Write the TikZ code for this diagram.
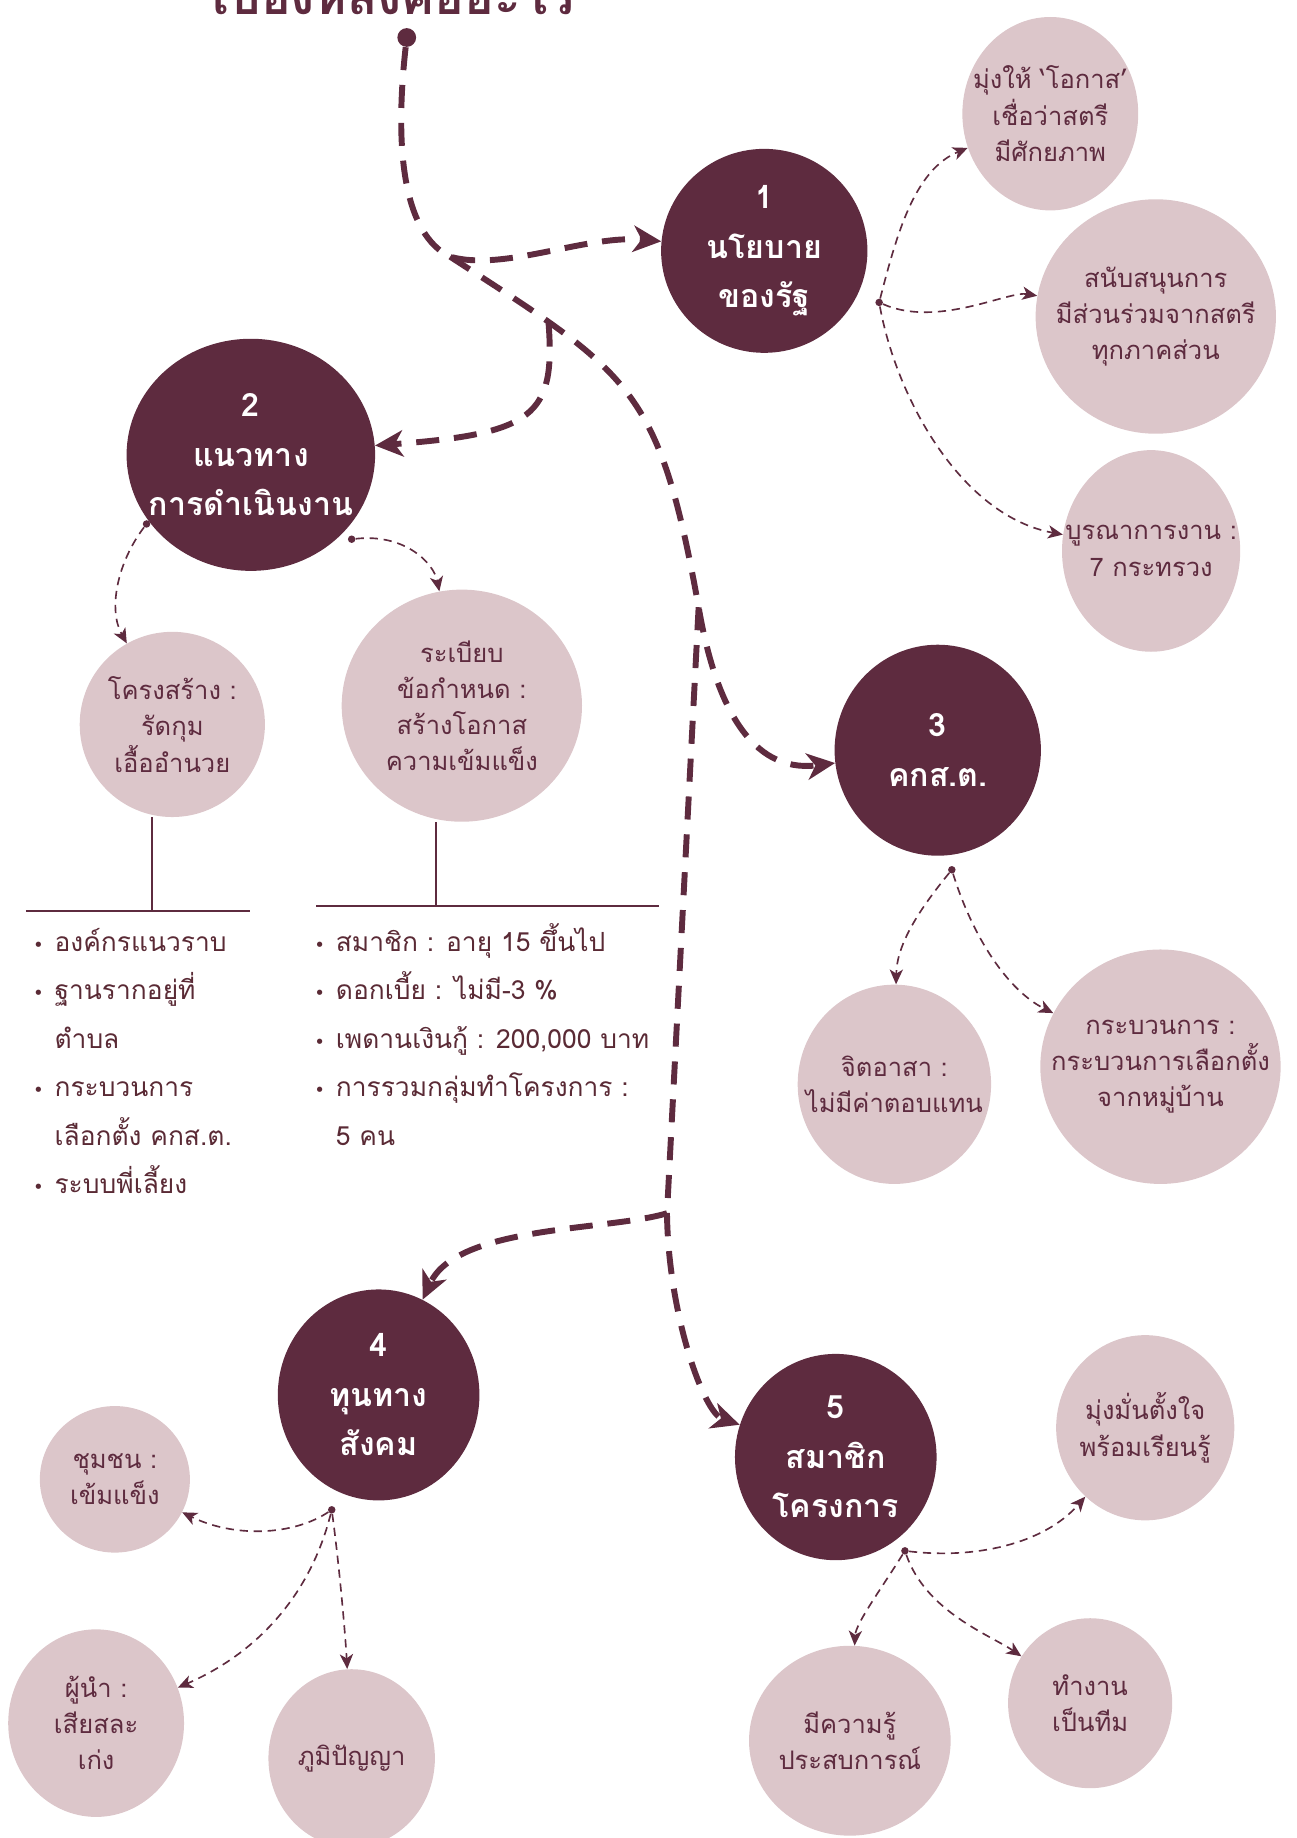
\documentclass[tikz,border=0pt]{standalone}
\usepackage{fontspec}
\setmainfont{Loma}[Script=Thai]
\newfontfamily\dejavu{DejaVu Sans}
\usetikzlibrary{shapes.geometric,arrows.meta}

\definecolor{plum}{HTML}{5E2B3F}
\definecolor{blush}{HTML}{DCC6CA}
\definecolor{listink}{HTML}{5A2A35}

\newcommand\bulpt{\makebox[13pt][l]{\dejavu\fontsize{11}{11}\selectfont •}}
\newcommand\bulgap{\hspace*{13pt}}

\tikzset{
  hub/.style={ellipse, fill=plum, text=white, align=center, inner sep=-10mm,
    font=\bfseries\fontsize{19.5}{30}\selectfont},
  bubble/.style={ellipse, fill=blush, text=plum, align=center, inner sep=-10mm,
    font=\fontsize{15.5}{22}\selectfont},
  pinpt/.style={circle, fill=plum, inner sep=0pt, minimum size=1.6mm},
  mainflow/.style={draw=plum, line width=3.6pt, dash pattern=on 14pt off 9pt,
    -{Stealth[length=17pt,width=16pt,inset=5pt]}},
  subflow/.style={draw=plum, line width=1pt, dash pattern=on 5pt off 3.5pt,
    -{Stealth[length=9pt,width=8pt,inset=2.5pt]}},
  branch/.style={draw=plum, line width=1.3pt},
  listtext/.style={anchor=base west, text=listink, inner sep=0pt,
    font=\fontsize{16}{16}\selectfont}
}

\begin{document}
\begin{tikzpicture}[x=0.25mm, y=-0.25mm]
\useasboundingbox (0,0) rectangle (1106,1568);

% heading, cut off by the page edge
\node[anchor=base, text=plum, font=\bfseries\fontsize{30}{30}\selectfont] (title) at (336,12) {เบื้องหลังคืออะไร};
\node[circle, fill=plum, inner sep=0pt, minimum size=4mm] (top) at (347,32) {};

% the five main steps
\node[hub, minimum width=44mm, minimum height=43.5mm] (n1) at (652,214) {1\\นโยบาย\\ของรัฐ};
\node[hub, minimum width=53mm, minimum height=49.5mm] (n2) at (214,388) {2\\แนวทาง\\การดำเนินงาน};
\node[hub, minimum width=44mm, minimum height=45mm] (n3) at (800,640) {3\\คกส.ต.};
\node[hub, minimum width=43mm, minimum height=45mm] (n4) at (323,1190) {4\\ทุนทาง\\สังคม};
\node[hub, minimum width=43mm, minimum height=44mm] (n5) at (713,1243) {5\\สมาชิก\\โครงการ};

% the pale bubbles
\foreach \name/\pos/\w/\h/\txt in {
  b1a/{(896,97)}/37.5/41.25/{มุ่งให้ ‘โอกาส’\\เชื่อว่าสตรี\\มีศักยภาพ},
  b1b/{(986,270)}/51.25/50/{สนับสนุนการ\\มีส่วนร่วมจากสตรี\\ทุกภาคส่วน},
  b1c/{(982,470)}/38/43/{บูรณาการงาน :\\7 กระทรวง},
  b2a/{(147,618)}/39.5/39.5/{โครงสร้าง :\\รัดกุม\\เอื้ออำนวย},
  b2b/{(394,602)}/51.25/49.5/{ระเบียบ\\ข้อกำหนด :\\สร้างโอกาส\\ความเข้มแข็ง},
  b3a/{(763,925)}/41.25/42.5/{จิตอาสา :\\ไม่มีค่าตอบแทน},
  b3b/{(990,910)}/51.25/50/{กระบวนการ :\\กระบวนการเลือกตั้ง\\จากหมู่บ้าน},
  b4a/{(98,1262)}/32/31.25/{ชุมชน :\\เข้มแข็ง},
  b4b/{(82,1470)}/37.5/40/{ผู้นำ :\\เสียสละ\\เก่ง},
  b4c/{(300,1500)}/35.5/38/{ภูมิปัญญา},
  b5a/{(977,1218)}/38/39.5/{มุ่งมั่นตั้งใจ\\พร้อมเรียนรู้},
  b5b/{(725,1485)}/43/40.5/{มีความรู้\\ประสบการณ์},
  b5c/{(930,1453)}/35/36.25/{ทำงาน\\เป็นทีม}}
  \node[bubble, minimum width=\w mm, minimum height=\h mm] (\name) at \pos {\txt};

% thick flow from the heading
\coordinate (fork1) at (384,219);
\coordinate (fork2) at (468,276);
\coordinate (fork3) at (596,518);
\coordinate (fork4) at (569,1035);
\draw[mainflow] (top) .. controls (336,130) and (345,200) .. (fork1) .. controls (430,232) and (500,200) .. (n1);
\draw[mainflow] (fork1) .. controls (538,319) and (562,329) .. (fork3) .. controls (610,600) and (640,660) .. (n3);
\draw[mainflow] (fork2) .. controls (474,355) and (455,370) .. (n2);
\draw[mainflow] (fork3) -- (fork4) .. controls (520,1050) and (390,1045) .. (n4);
\draw[mainflow] (fork4) .. controls (570,1120) and (600,1205) .. (n5);

% thin links to the bubbles
\node[pinpt] (d1) at (750,258) {};
\draw[subflow] (d1) .. controls (765,200) and (780,145) .. (b1a);
\draw[subflow] (d1) .. controls (800,280) and (860,248) .. (b1b);
\draw[subflow] (d1) .. controls (765,340) and (820,440) .. (b1c);
\node[pinpt] (d2a) at (125,447) {};
\node[pinpt] (d2b) at (300,460) {};
\draw[subflow] (d2a) .. controls (100,480) and (92,520) .. (b2a);
\draw[subflow] (d2b) .. controls (345,455) and (370,480) .. (b2b);
\node[pinpt] (d3) at (812,742) {};
\draw[subflow] (d3) .. controls (785,775) and (765,805) .. (b3a);
\draw[subflow] (d3) .. controls (830,800) and (860,845) .. (b3b);
\node[pinpt] (d4) at (283,1288) {};
\draw[subflow] (d4) .. controls (250,1310) and (200,1312) .. (b4a);
\draw[subflow] (d4) .. controls (265,1360) and (220,1410) .. (b4b);
\draw[subflow] (d4) .. controls (290,1340) and (295,1400) .. (b4c);
\node[pinpt] (d5) at (772,1323) {};
\draw[subflow] (d5) .. controls (830,1330) and (890,1318) .. (b5a);
\draw[subflow] (d5) .. controls (752,1355) and (730,1385) .. (b5b);
\draw[subflow] (d5) .. controls (790,1375) and (845,1395) .. (b5c);

% stems and rules under step 2
\coordinate (stem1) at (130,777);
\coordinate (stem2) at (372,773);
\draw[branch] (b2a.south -| stem1) -- (stem1);
\draw[branch] (22,777) -- (213,777);
\draw[branch] (b2b.south -| stem2) -- (stem2);
\draw[branch] (270,773) -- (562,773);

\foreach \txt [count=\i] in {{\bulpt องค์กรแนวราบ}, {\bulpt ฐานรากอยู่ที่}, {\bulgap ตำบล},
    {\bulpt กระบวนการ}, {\bulgap เลือกตั้ง คกส.ต.}, {\bulpt ระบบพี่เลี้ยง}}
  \node[listtext] (left\i) at (28,770+41.4*\i) {\txt};
\foreach \txt [count=\i] in {{\bulpt สมาชิก : อายุ 15 ขึ้นไป}, {\bulpt ดอกเบี้ย : ไม่มี-3 \%},
    {\bulpt เพดานเงินกู้ : 200,000 บาท}, {\bulpt การรวมกลุ่มทำโครงการ :}, {\bulgap 5 คน}}
  \node[listtext] (right\i) at (268,770+41.4*\i) {\txt};
\end{tikzpicture}
\end{document}
